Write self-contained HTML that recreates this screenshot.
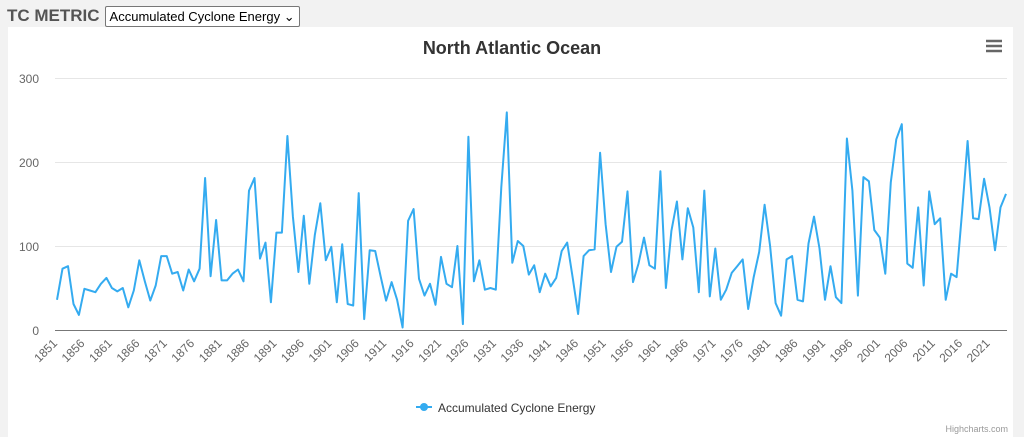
<!DOCTYPE html>
<html><head><meta charset="utf-8"><style>
html,body{margin:0;padding:0;width:1024px;height:437px;overflow:hidden;background:#f2f2f2;font-family:"Liberation Sans",Arial,sans-serif}
#top{position:absolute;left:7px;top:6px;height:20px;display:flex;align-items:center}
#top b{font-size:17px;color:#555;margin-right:5px}
#sel{border:1px solid #777;border-radius:2px;background:#fff;font-size:13px;padding:1px 4px;color:#000;height:17px;line-height:17px}
#box{position:absolute;left:8px;top:27px;width:1005px;height:410px;background:#fff}
svg{position:absolute;left:0;top:0}
</style></head><body>
<div id="top"><b>TC METRIC</b><span id="sel">Accumulated Cyclone Energy &#8964;</span></div>
<div id="box"></div>
<svg id="s" width="1024" height="437" xmlns="http://www.w3.org/2000/svg" font-family="Liberation Sans, Arial, sans-serif">
<text x="512" y="54" text-anchor="middle" font-size="18" font-weight="bold" fill="#333">North Atlantic Ocean</text>
<g stroke="#666" stroke-width="2.5"><line x1="986" y1="41" x2="1002" y2="41"/><line x1="986" y1="46" x2="1002" y2="46"/><line x1="986" y1="51" x2="1002" y2="51"/></g>
<g stroke="#e6e6e6" stroke-width="1"><line x1="55" y1="78.5" x2="1007" y2="78.5"/><line x1="55" y1="162.5" x2="1007" y2="162.5"/><line x1="55" y1="246.5" x2="1007" y2="246.5"/></g>
<line x1="55" y1="330.5" x2="1007" y2="330.5" stroke="#777" stroke-width="1"/>
<g font-size="12" fill="#666" text-anchor="end"><text x="39" y="83">300</text><text x="39" y="167">200</text><text x="39" y="251">100</text><text x="39" y="335">0</text></g>
<g id="xl" font-size="12" fill="#666" text-anchor="end"></g>
<polyline id="pl" fill="none" stroke="#34abf0" stroke-width="2" stroke-linejoin="round"/>
<line x1="416" y1="407" x2="432" y2="407" stroke="#34abf0" stroke-width="2"/><circle cx="424" cy="407" r="4" fill="#34abf0"/>
<text x="438" y="412" font-size="12" fill="#333">Accumulated Cyclone Energy</text>
<text x="1008" y="432" font-size="9" fill="#999" text-anchor="end">Highcharts.com</text>
</svg>
<script>
var d=[36,73,76,31,18,49,47,45,55,62,50,46,50,27,47,83,58,35,53,88,88,67,69,47,72,58,73,181,64,131,59,59,67,72,58,166,181,85,104,33,116,116,231,135,69,136,55,113,151,83,99,33,102,31,29,163,13,95,94,64,35,57,36,3,130,144,61,41,55,30,87,55,51,100,7,230,58,83,48,50,48,170,259,80,106,100,66,77,45,67,52,62,94,104,63,19,88,95,96,211,126,69,99,105,165,57,79,110,77,73,189,50,118,153,84,145,122,45,166,40,97,36,48,68,76,84,25,63,93,149,100,32,17,84,88,36,34,103,135,97,36,76,39,32,228,166,41,182,177,119,110,67,176,227,245,79,74,146,53,165,126,133,36,67,63,141,225,133,132,180,146,95,146,162];
var x0=57,st=(1006-57)/(d.length-1),p=[],g=document.getElementById('xl'),h='';
for(var i=0;i<d.length;i++){var x=x0+i*st;p.push(x.toFixed(1)+','+(330-d[i]*0.84).toFixed(1));
if(i%5==0&&1851+i<=2021){h+='<text transform="translate('+(x+1).toFixed(1)+',344) rotate(-45)">'+(1851+i)+'</text>';}}
document.getElementById('pl').setAttribute('points',p.join(' '));g.innerHTML=h;
</script>
</body></html>
